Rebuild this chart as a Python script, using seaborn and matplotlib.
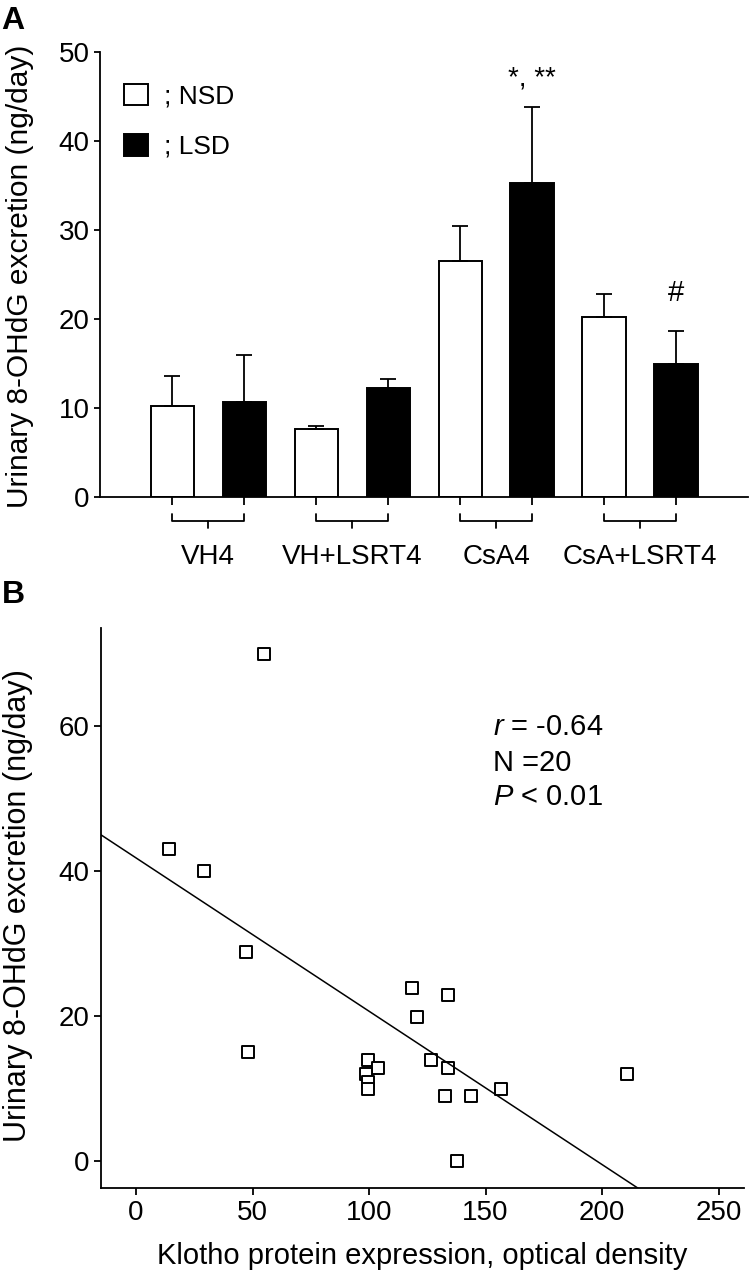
import matplotlib
matplotlib.use('Agg')
import matplotlib.pyplot as plt
import matplotlib.transforms as mtransforms
import numpy as np
import pandas as pd
import seaborn as sns

# ---- panel A data
groups = ["VH4", "VH+LSRT4", "CsA4", "CsA+LSRT4"]
diets = ["NSD", "LSD"]
nsd_mean = [10.2, 7.6, 26.5, 20.2]
nsd_err = [3.4, 0.3, 4.0, 2.6]
lsd_mean = [10.6, 12.2, 35.3, 14.9]
lsd_err = [5.4, 1.05, 8.6, 3.7]

# ---- panel B data
klotho = [55.0, 14.3, 29.3, 47.3, 48.1, 118.5, 133.8, 120.8, 99.6, 103.8,
          98.6, 99.6, 99.6, 126.8, 133.8, 132.8, 143.8, 156.7, 210.8, 137.8]
ohdg = [70.0, 43.0, 40.0, 28.9, 15.0, 23.9, 22.9, 19.9, 14.0, 12.9,
        12.0, 10.9, 9.9, 14.0, 12.9, 9.0, 9.0, 9.9, 12.0, 0.0]

sns.set_style('ticks')
plt.rcParams['font.family'] = ['Liberation Sans', 'DejaVu Sans']
plt.rcParams['mathtext.fontset'] = 'custom'
plt.rcParams['mathtext.rm'] = 'Liberation Sans'
plt.rcParams['mathtext.it'] = 'Liberation Sans:italic'
for k in ['text.color', 'axes.labelcolor', 'xtick.color', 'ytick.color',
          'axes.edgecolor']:
    plt.rcParams[k] = 'black'
plt.rcParams['axes.linewidth'] = 1.3
plt.rcParams['xtick.major.width'] = 1.3
plt.rcParams['ytick.major.width'] = 1.3

fig = plt.figure(figsize=(7.54, 12.8), dpi=100)
axA = fig.add_axes([0.133, 0.612, 0.859, 0.347])
axB = fig.add_axes([0.134, 0.072, 0.853, 0.437])

# ================= panel A
df = pd.DataFrame({
    'group': groups * 2,
    'diet': [diets[0]] * 4 + [diets[1]] * 4,
    'value': nsd_mean + lsd_mean,
})
sns.barplot(data=df, x='group', y='value', hue='diet', hue_order=diets,
            palette={'NSD': 'white', 'LSD': 'black'}, edgecolor='black',
            linewidth=1.4, width=1.0, gap=0.4, errorbar=None, legend=False,
            ax=axA)

errs = nsd_err + lsd_err
bars = list(axA.patches)
xc = np.array([b.get_x() + b.get_width() / 2 for b in bars])
hts = np.array([b.get_height() for b in bars])
axA.errorbar(xc, hts, yerr=[np.zeros(len(errs)), errs], fmt='none',
             ecolor='black', elinewidth=1.3, capsize=6, capthick=1.3, zorder=3)

axA.set_xlim(-0.75, 3.75)
axA.set_ylim(0, 50)
axA.set_yticks([0, 10, 20, 30, 40, 50])
axA.set_xticks(sorted(xc))
axA.set_xticklabels([])
axA.tick_params(axis='x', length=6)
axA.tick_params(axis='y', length=4, labelsize=20)
axA.set_xlabel('')
axA.set_ylabel('Urinary 8-OHdG excretion (ng/day)', fontsize=21.5)
axA.yaxis.set_label_coords(-0.103, 0.497)
sns.despine(ax=axA)

# brackets and group labels under the axis
trans = mtransforms.blended_transform_factory(axA.transData, axA.transAxes)
for g in range(len(groups)):
    x0, x1 = xc[g], xc[g + len(groups)]
    axA.plot([x0, x0, x1, x1], [-0.038, -0.054, -0.054, -0.038], color='black',
             lw=1.3, transform=trans, clip_on=False)
    xm = (x0 + x1) / 2
    axA.plot([xm, xm], [-0.054, -0.070], color='black', lw=1.3,
             transform=trans, clip_on=False)
    axA.text(xm, -0.135, groups[g], transform=trans, ha='center', va='center',
             fontsize=20)

# significance marks
axA.text(xc[6], 46.3, '*, **', ha='center', va='baseline', fontsize=20)
axA.text(xc[7], 22.0, '#', ha='center', va='baseline', fontsize=21)

axA.legend(handles=[bars[0], bars[4]], labels=['; ' + d for d in diets],
           loc='upper left', bbox_to_anchor=(0.037, 0.93), frameon=False,
           fontsize=19, handlelength=0.9, handleheight=0.9,
           handletextpad=0.6, labelspacing=0.95, borderpad=0, borderaxespad=0)

# ================= panel B
axB.set_xlim(-15, 261)
sns.regplot(x=klotho, y=ohdg, ax=axB, ci=None, truncate=False, marker='s',
            color='black',
            scatter_kws={'facecolors': 'white', 'edgecolors': 'black',
                         's': 68, 'linewidths': 1.4, 'alpha': 1},
            line_kws={'color': 'black', 'lw': 1.1})
axB.set_xlim(-15, 261)
axB.set_ylim(-3.7, 73.5)
axB.set_xticks([0, 50, 100, 150, 200, 250])
axB.set_yticks([0, 20, 40, 60])
axB.tick_params(length=5, labelsize=20)
axB.set_xlabel('Klotho protein expression, optical density', fontsize=21,
               labelpad=12)
axB.set_ylabel('Urinary 8-OHdG excretion (ng/day)', fontsize=22)
axB.yaxis.set_label_coords(-0.106, 0.504)
sns.despine(ax=axB)

axB.text(0.61, 0.809, '$r$ = -0.64', transform=axB.transAxes, fontsize=21,
         va='baseline')
axB.text(0.61, 0.746, 'N =20', transform=axB.transAxes, fontsize=21,
         va='baseline')
axB.text(0.61, 0.684, '$P$ < 0.01', transform=axB.transAxes, fontsize=21,
         va='baseline')

fig.text(0.002, 0.995, 'A', fontsize=23, fontweight='bold', va='top')
fig.text(0.002, 0.547, 'B', fontsize=23, fontweight='bold', va='top')

fig.savefig('out.png', dpi=100)
